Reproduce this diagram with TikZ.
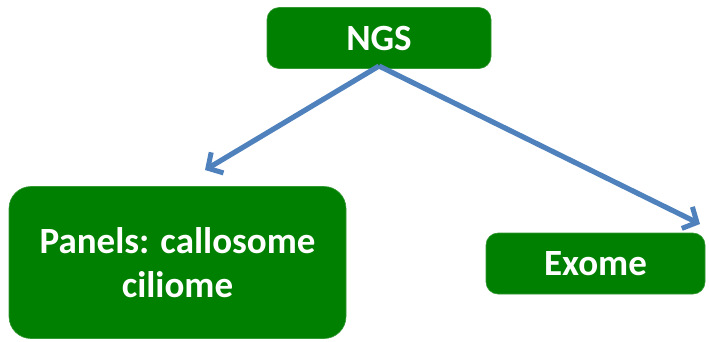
\documentclass[tikz,border=0pt]{standalone}
\usepackage{fontspec}
\setmainfont{Carlito}
\usetikzlibrary{arrows.meta}
\definecolor{boxgreen}{HTML}{008000}
\definecolor{arrowblue}{HTML}{4F81BD}
\begin{document}
\begin{tikzpicture}[x=1pt,y=-1pt,
  gbox/.style={draw=boxgreen!80!white, line width=0.6pt, fill=boxgreen, rounded corners=12pt,
    text=white, font=\fontsize{37}{44}\selectfont\bfseries, align=center, inner sep=0pt},
  conn/.style={draw=arrowblue, line width=5.2pt, -{Straight Barb[length=11pt,width=24pt,line width=5pt]}}]
\useasboundingbox (0,0) rectangle (709,341);
\node[gbox, minimum width=224pt, minimum height=61pt] (ngs) at (379,38) {NGS};
\node[gbox, minimum width=337pt, minimum height=152pt, rounded corners=22pt] (panels) at (177.5,262.5) {Panels: callosome\\ciliome};
\node[gbox, minimum width=219pt, minimum height=61pt] (exome) at (595.5,263.5) {Exome};
\coordinate (start) at (379,66);
\coordinate (lt) at (205,170);
\coordinate (rt) at (700,224);
\draw[conn] (start) -- (lt);
\draw[conn] (start) -- (rt);
\end{tikzpicture}
\end{document}
